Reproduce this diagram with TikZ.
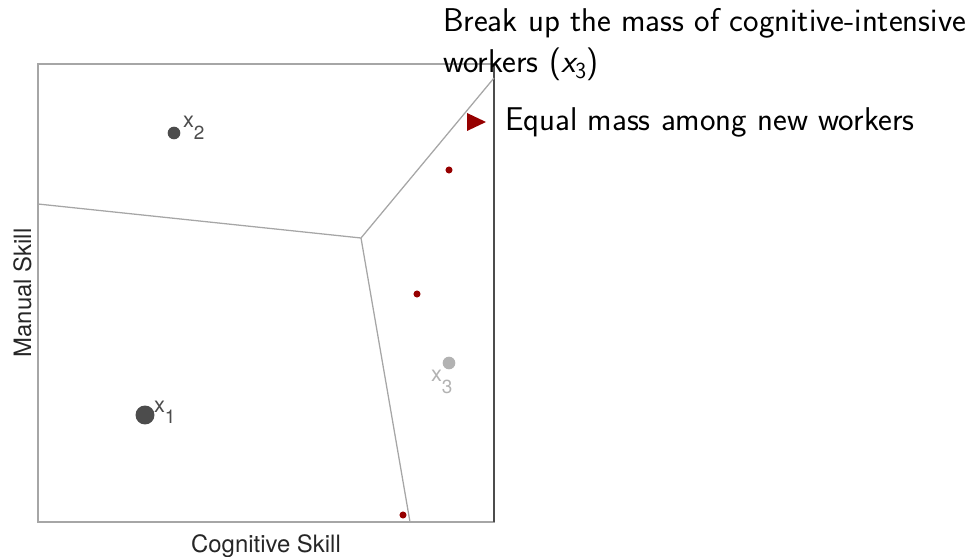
\documentclass[tikz,border=0pt]{standalone}
\usepackage{fontspec}
\newfontfamily\plotfont{TeX Gyre Heros}
\usetikzlibrary{positioning}
\definecolor{newred}{RGB}{150,0,0}
\newcommand{\xlab}[1]{x\raisebox{-8pt}{\fontsize{13.5}{14}\selectfont #1}}

\begin{document}
\begin{tikzpicture}[x=0.025cm, y=-0.025cm,
	every node/.style={inner sep=0pt, outer sep=0pt},
	frame/.style={draw=black!35, line width=1pt},
	cell/.style={draw=black!35, line width=0.9pt},
	worker/.style={circle, fill=black!70, minimum size=#1},
	newdot/.style={circle, fill=newred, minimum size=5pt},
	ptlabel/.style={font=\plotfont\fontsize{15.5}{16}\selectfont, anchor=base west},
	axlabel/.style={font=\plotfont\fontsize{17}{20}\selectfont, text=black!85},
	slide/.style={font=\sffamily\fontsize{23.4}{28}\selectfont, anchor=base west}]
	\useasboundingbox (0,0) rectangle (974,557);
	% skill space
	\draw[frame] (38,64) rectangle (494,522);
	\draw[draw=black!70, line width=1pt] (494,64) -- (494,522);
	% cell borders
	\coordinate (mid) at (361,238);
	\coordinate (lft) at (38,204);
	\coordinate (top) at (494,78);
	\coordinate (bot) at (410,522);
	\draw[cell] (lft) -- (mid) -- (top);
	\draw[cell] (mid) -- (bot);
	% workers
	\node[worker=13.5pt] (x1) at (145,415) {};
	\node[worker=9pt] (x2) at (174,133) {};
	\node[worker=9pt, fill=black!30] (x3) at (449,363) {};
	\node[ptlabel, text=black!70] (x1lbl) at (154,412) {\xlab{1}};
	\node[ptlabel, text=black!70] (x2lbl) at (183,128) {\xlab{2}};
	\node[ptlabel, text=black!30] (x3lbl) at (431,382) {\xlab{3}};
	% new workers
	\node[newdot] (n1) at (449,170) {};
	\node[newdot] (n2) at (417,294) {};
	\node[newdot] (n3) at (403,515) {};
	% axes
	\node[axlabel, anchor=base] (cog) at (266,552) {Cognitive Skill};
	\node[axlabel, anchor=base, rotate=90] (man) at (31,293) {Manual Skill};
	% slide text
	\node[slide] (head) at (443,32) {Break up the mass of cognitive-intensive};
	\node[slide] (head2) at (443,73) {workers ({\itshape x}\textsubscript{3})};
	\fill[newred] (467,113) -- (486,122) -- (467,131) -- cycle;
	\node[slide] (item) at (505,131) {Equal mass among new workers};
\end{tikzpicture}
\end{document}
